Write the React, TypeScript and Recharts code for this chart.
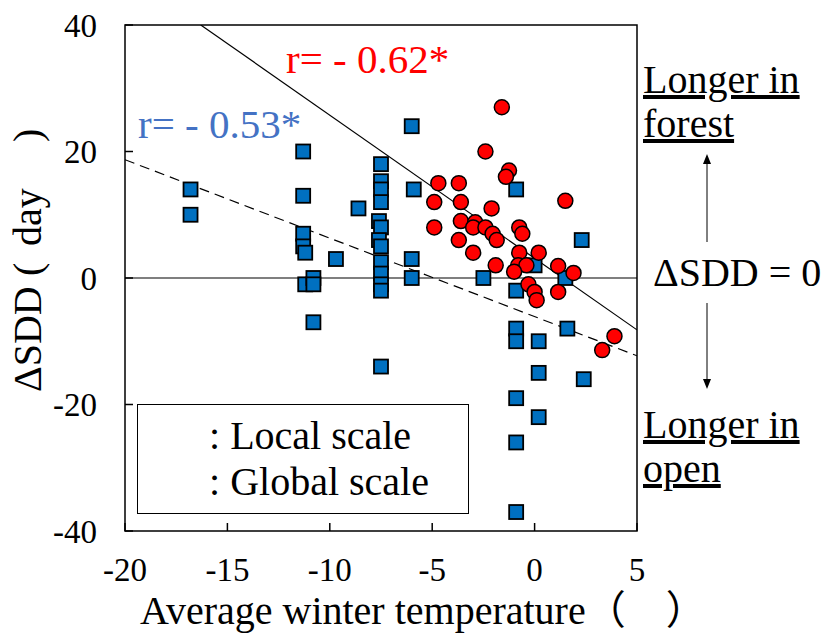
import { ScatterChart, Scatter, XAxis, YAxis, ReferenceLine, ReferenceArea, Legend } from 'recharts';

const serif = '"Liberation Serif", "Times New Roman", "Noto Sans CJK JP", serif';

const xTicks = [-20, -15, -10, -5, 0, 5];
const yTicks = [-40, -20, 0, 20, 40];

// blue squares (global scale)
const globalPoints = [
  { x: -16.8, y: 14 }, { x: -16.8, y: 10 },
  { x: -11.3, y: 20 }, { x: -11.3, y: 13 }, { x: -11.3, y: 7 }, { x: -11.3, y: 5 },
  { x: -11.2, y: 4 }, { x: -11.2, y: -1 }, { x: -10.8, y: 0 }, { x: -10.8, y: -1 },
  { x: -10.8, y: -7 }, { x: -9.7, y: 3 }, { x: -8.6, y: 11 },
  { x: -7.5, y: 18 }, { x: -7.5, y: 15.3 }, { x: -7.5, y: 14 }, { x: -7.5, y: 12 },
  { x: -7.6, y: 9 }, { x: -7.5, y: 8 }, { x: -7.6, y: 6 }, { x: -7.5, y: 5 },
  { x: -7.5, y: 2.5 }, { x: -7.5, y: 0.7 }, { x: -7.5, y: -1 }, { x: -7.5, y: -2 },
  { x: -7.5, y: -14 },
  { x: -6, y: 24 }, { x: -5.9, y: 14 }, { x: -6, y: 3 }, { x: -6, y: 0 },
  { x: -0.9, y: 14 }, { x: -2.5, y: 0 }, { x: -0.9, y: -2 }, { x: 0, y: 2 },
  { x: 2.3, y: 6 }, { x: 1.5, y: 0 }, { x: -0.9, y: -8 }, { x: -0.9, y: -10 },
  { x: 0.2, y: -10 }, { x: 1.6, y: -8 }, { x: 0.2, y: -15 }, { x: 2.4, y: -16 },
  { x: -0.9, y: -19 }, { x: 0.2, y: -22 }, { x: -0.9, y: -26 }, { x: -0.9, y: -37 },
];

// red circles (local scale)
const localPoints = [
  { x: -1.6, y: 27 }, { x: -2.4, y: 20 }, { x: -1.25, y: 17 }, { x: -1.4, y: 16 },
  { x: -4.7, y: 15 }, { x: -3.7, y: 15 }, { x: -4.9, y: 12 }, { x: -3.6, y: 12 },
  { x: -2.1, y: 11 }, { x: 1.5, y: 12.2 }, { x: -4.9, y: 8 }, { x: -3.6, y: 9 },
  { x: -2.9, y: 8.8 }, { x: -3.0, y: 8 }, { x: -2.4, y: 8 }, { x: -2.05, y: 7 },
  { x: -1.85, y: 6 }, { x: -3.7, y: 6 }, { x: -3.0, y: 4 }, { x: -0.75, y: 8 },
  { x: -0.6, y: 7 }, { x: -0.75, y: 4 }, { x: 0.2, y: 4 }, { x: -1.9, y: 2 },
  { x: -0.8, y: 2 }, { x: -0.4, y: 2 }, { x: -1.0, y: 1 }, { x: 1.15, y: 1.9 },
  { x: 1.9, y: 0.8 }, { x: -0.3, y: -1 }, { x: 0, y: -2.2 }, { x: 0.1, y: -3.5 },
  { x: 1.15, y: -2.2 }, { x: 3.9, y: -9.2 }, { x: 3.3, y: -11.4 },
];

// regression lines
const localFit = [{ x: -16.3, y: 40 }, { x: 5, y: -8.2 }];
const globalFit = [{ x: -20, y: 18.7 }, { x: 5, y: -12.3 }];

const legendLabels = ['Local scale', 'Global scale'];

const XTick = ({ x, y, payload }: any) => (
  <g>
    <line x1={x} x2={x} y1={y - 8} y2={y} stroke="#000" strokeWidth={1.5} />
    <text x={x} y={y + 50} textAnchor="middle" fontSize={33} fontFamily={serif} fill="#000">
      {payload.value}
    </text>
  </g>
);

const YTick = ({ x, y, payload }: any) => (
  <g>
    <line x1={x} x2={x + 8} y1={y} y2={y} stroke="#000" strokeWidth={1.5} />
    <text x={x - 28} y={y} dy="0.35em" textAnchor="end" fontSize={33} fontFamily={serif} fill="#000">
      {payload.value}
    </text>
  </g>
);

const Square = ({ cx, cy }: any) => (
  <rect x={cx - 7} y={cy - 7} width={14} height={14} fill="#0070C0" stroke="#000" strokeWidth={1.8} />
);

const Dot = ({ cx, cy }: any) => (
  <circle cx={cx} cy={cy} r={7.5} fill="#FF0000" stroke="#000" strokeWidth={1.5} />
);

const LegendBox = () => (
  <div
    style={{
      width: 332,
      height: 110,
      boxSizing: 'border-box',
      border: '1.5px solid #000',
      background: '#fff',
      fontFamily: serif,
      fontSize: 40,
      lineHeight: '46px',
      paddingTop: 8,
      paddingLeft: 71,
      color: '#000',
    }}
  >
    {legendLabels.map((l) => (
      <div key={l} style={{ whiteSpace: 'nowrap' }}>: {l}</div>
    ))}
  </div>
);

export default function App() {
  return (
    <div style={{ position: 'absolute', left: 0, top: 0, width: 821, height: 636, background: '#fff' }}>
      <ScatterChart width={821} height={636} margin={{ top: 25, right: 184, bottom: 0, left: 0 }}>
        <XAxis
          type="number"
          dataKey="x"
          domain={[-20, 5]}
          ticks={xTicks}
          height={105}
          axisLine={false}
          tickLine={false}
          tickSize={0}
          tickMargin={0}
          tick={<XTick />}
          allowDataOverflow
        />
        <YAxis
          type="number"
          dataKey="y"
          domain={[-40, 40]}
          ticks={yTicks}
          width={125}
          axisLine={false}
          tickLine={false}
          tickSize={0}
          tickMargin={0}
          tick={<YTick />}
          allowDataOverflow
        />
        <ReferenceArea x1={-20} x2={5} y1={-40} y2={40} fill="none" stroke="#000" strokeWidth={1.5} />
        <ReferenceLine y={0} stroke="#000" strokeWidth={1.2} />
        <ReferenceLine
          segment={globalFit}
          stroke="#000"
          strokeWidth={1.2}
          strokeDasharray="10 6"
          ifOverflow="hidden"
        />
        <ReferenceLine segment={localFit} stroke="#000" strokeWidth={1.2} ifOverflow="hidden" />
        <Legend
          layout="horizontal"
          verticalAlign="middle"
          align="center"
          content={<LegendBox />}
          wrapperStyle={{ position: 'absolute', left: 137, top: 404, width: 332, height: 110 }}
        />
        <Scatter name="Global scale" data={globalPoints} shape={<Square />} isAnimationActive={false} />
        <Scatter name="Local scale" data={localPoints} shape={<Dot />} isAnimationActive={false} />
      </ScatterChart>
      <svg
        width={821}
        height={636}
        style={{ position: 'absolute', left: 0, top: 0, pointerEvents: 'none' }}
        fontFamily={serif}
      >
        <text transform="translate(41 392) rotate(-90)" fontSize={40}>
          <tspan x={0}>ΔSDD</tspan>
          <tspan x={116}>(</tspan>
          <tspan x={146}>day</tspan>
          <tspan x={250}>)</tspan>
        </text>
        <text x={140} y={624} fontSize={40}>Average winter temperature（　）</text>
        <text x={286} y={73} fontSize={41} fill="#FF0000">r= - 0.62*</text>
        <text x={138} y={138} fontSize={41} fill="#4472C4">r= - 0.53*</text>
        <text x={643} y={93} fontSize={40} textDecoration="underline">Longer in</text>
        <text x={643} y={137} fontSize={40} textDecoration="underline">forest</text>
        <line x1={707} x2={707} y1={242} y2={162} stroke="#000" strokeWidth={1} />
        <polygon points="707,154 703,164 711,164" fill="#000" />
        <text x={653} y={286} fontSize={40}>ΔSDD = 0</text>
        <line x1={707} x2={707} y1={303} y2={380} stroke="#000" strokeWidth={1} />
        <polygon points="707,389 703,379 711,379" fill="#000" />
        <text x={643} y={438} fontSize={40} textDecoration="underline">Longer in</text>
        <text x={643} y={482} fontSize={40} textDecoration="underline">open</text>
      </svg>
    </div>
  );
}
